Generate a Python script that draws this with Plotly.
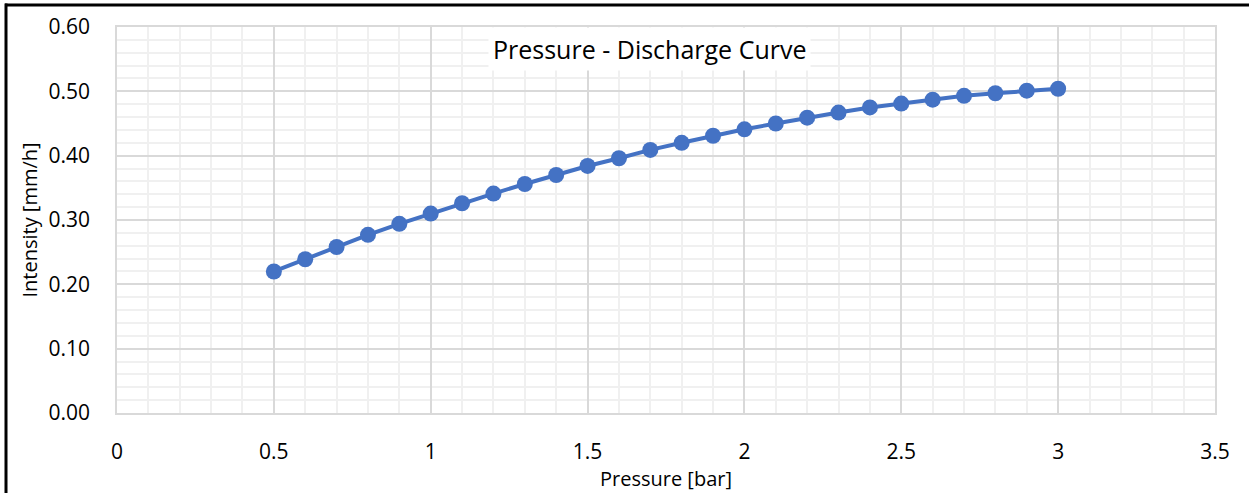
import plotly.graph_objects as go

pressure = [0.5, 0.6, 0.7, 0.8, 0.9, 1.0, 1.1, 1.2, 1.3, 1.4, 1.5, 1.6, 1.7, 1.8, 1.9,
            2.0, 2.1, 2.2, 2.3, 2.4, 2.5, 2.6, 2.7, 2.8, 2.9, 3.0]
intensity = [0.220, 0.239, 0.258, 0.277, 0.294, 0.310, 0.326, 0.341, 0.356, 0.370, 0.384,
             0.396, 0.409, 0.420, 0.431, 0.441, 0.450, 0.459, 0.467, 0.475, 0.481, 0.487,
             0.493, 0.497, 0.501, 0.504]

W, H = 1249, 493
L, R, T, B = 117, 34, 27, 80
pw, ph = W - L - R, H - T - B

def px(x):
    return (x - L) / pw

def py(y):
    return (H - B - y) / ph

FONT = "Open Sans"
BLUE = "#4472C4"

fig = go.Figure()
fig.add_trace(go.Scatter(
    x=pressure, y=intensity, mode="lines+markers",
    line=dict(color=BLUE, width=4),
    marker=dict(color=BLUE, size=16),
    showlegend=False,
))

fig.update_layout(
    width=W, height=H,
    margin=dict(l=L, r=R, t=T, b=B, autoexpand=False),
    paper_bgcolor="white", plot_bgcolor="white",
    font=dict(family=FONT, color="black"),
    xaxis=dict(
        range=[0, 3.5], dtick=0.5, tick0=0, automargin=False,
        showgrid=True, gridcolor="#d9d9d9", gridwidth=1.5,
        minor=dict(dtick=0.1, showgrid=True, gridcolor="#f0f0f0", gridwidth=1.5),
        showline=True, linecolor="#d9d9d9", linewidth=1.5, mirror=True,
        zeroline=False, ticks="", ticklabelstandoff=19,
        tickfont=dict(size=21, family=FONT),
        title=dict(text="Pressure [bar]", font=dict(size=20, family=FONT), standoff=6),
    ),
    yaxis=dict(
        range=[0, 0.6], dtick=0.1, tick0=0, tickformat=".2f", automargin=False,
        showgrid=True, gridcolor="#d9d9d9", gridwidth=1.5,
        minor=dict(dtick=0.02, showgrid=True, gridcolor="#f0f0f0", gridwidth=1.5),
        showline=True, linecolor="#d9d9d9", linewidth=1.5, mirror=True,
        zeroline=False, ticks="", ticklabelstandoff=21,
        tickfont=dict(size=21, family=FONT),
        title=dict(text="Intensity [mm/h]", font=dict(size=20, family=FONT), standoff=6),
    ),
    annotations=[dict(
        text="Pressure - Discharge Curve", xref="paper", yref="paper",
        x=px(649), y=py(49), xanchor="center", yanchor="middle",
        showarrow=False, font=dict(size=25, family=FONT, color="black"),
        bgcolor="white", borderpad=4,
    )],
    shapes=[
        dict(type="line", xref="paper", yref="paper",
             x0=px(5), x1=px(W + 5), y0=py(5), y1=py(5),
             line=dict(color="black", width=3)),
        dict(type="line", xref="paper", yref="paper",
             x0=px(6), x1=px(6), y0=py(3.5), y1=py(H + 5),
             line=dict(color="black", width=3)),
    ],
)

fig.write_html("out.html")
